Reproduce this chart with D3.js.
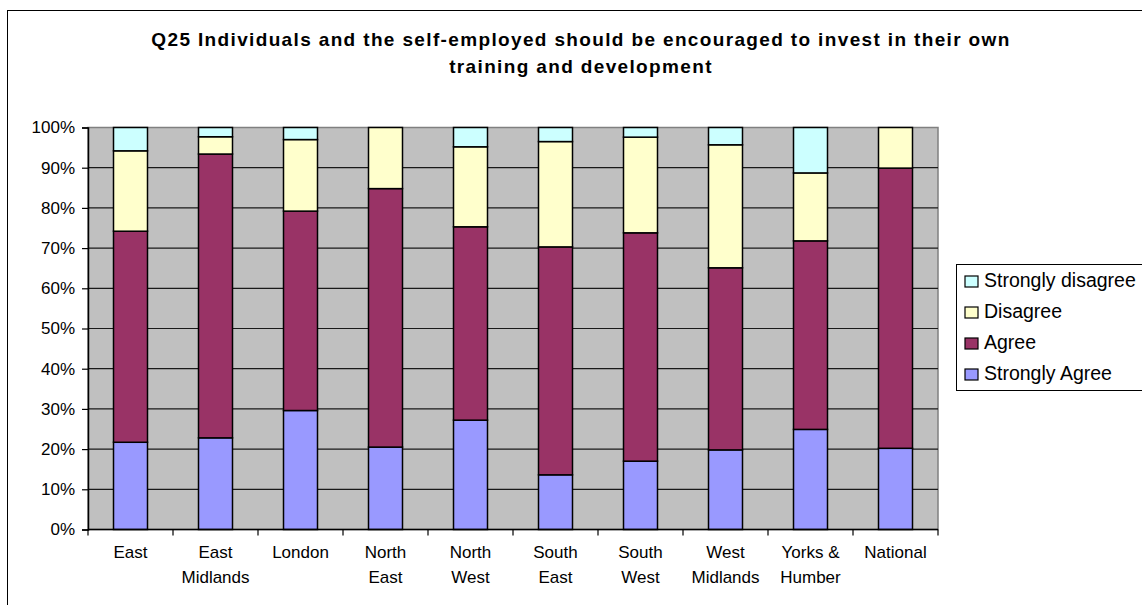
<!DOCTYPE html>
<html>
<head>
<meta charset="utf-8">
<script src="https://cdn.jsdelivr.net/npm/d3@7"></script>
<style>
  html, body { margin: 0; padding: 0; background: #fff; }
  svg { display: block; font-family: Arial, "Liberation Sans", sans-serif; }
</style>
</head>
<body>
<svg id="chart" width="1142" height="605"></svg>
<script>
// Regions (x axis) and response shares in percent
const categories = ["East", "East Midlands", "London", "North East", "North West",
                    "South East", "South West", "West Midlands", "Yorks & Humber", "National"];
const categoryLines = [["East"], ["East", "Midlands"], ["London"], ["North", "East"], ["North", "West"],
                       ["South", "East"], ["South", "West"], ["West", "Midlands"], ["Yorks &", "Humber"], ["National"]];

const stronglyAgree    = [21.7, 22.8, 29.6, 20.5, 27.2, 13.6, 17.0, 19.8, 24.9, 20.2];
const agree            = [52.5, 70.6, 49.6, 64.3, 48.1, 56.7, 56.8, 45.3, 46.9, 69.7];
const disagree         = [20.0,  4.3, 17.8, 15.2, 19.9, 26.2, 23.8, 30.6, 16.9, 10.1];
const stronglyDisagree = [ 5.8,  2.3,  3.0,  0.0,  4.8,  3.5,  2.4,  4.3, 11.3,  0.0];

const seriesNames = ["Strongly Agree", "Agree", "Disagree", "Strongly disagree"];
const seriesColors = ["#9999FF", "#993366", "#FFFFCC", "#CCFFFF"];
const yTicks = [0, 10, 20, 30, 40, 50, 60, 70, 80, 90, 100];

const titleLines = ["Q25 Individuals and the self-employed should be encouraged to invest in their own",
                    "training and development"];

const svg = d3.select("#chart");

// outer chart frame
svg.append("rect")
  .attr("x", 7.5).attr("y", 10.5).attr("width", 1160).attr("height", 620)
  .attr("fill", "#fff").attr("stroke", "#000").attr("stroke-width", 1);

// title: two centred bold lines, spaced out to the full title width
const titleCenter = 581, titleWidth = 858;
const title = svg.append("g").selectAll("text").data(titleLines).join("text")
  .attr("x", titleCenter).attr("y", (d, i) => 46 + i * 27)
  .attr("text-anchor", "middle")
  .attr("font-weight", "bold").attr("font-size", 19)
  .attr("fill", "#000")
  .text(d => d);
const firstWidth = title.nodes()[0].getComputedTextLength();
const spacing = (titleWidth - firstWidth) / (titleLines[0].length - 1);
title.attr("letter-spacing", spacing);

const plot = { left: 88, right: 938, top: 127.5, bottom: 529.5 };

const x = d3.scaleBand().domain(categories)
  .range([plot.left, plot.right]).paddingInner(0.6).paddingOuter(0.3);
const y = d3.scaleLinear().domain([0, 100]).range([plot.bottom, plot.top]);

// plot background
svg.append("rect")
  .attr("x", plot.left).attr("y", plot.top)
  .attr("width", plot.right - plot.left).attr("height", plot.bottom - plot.top)
  .attr("fill", "#C0C0C0").attr("stroke", "#808080").attr("stroke-width", 1.5);

// gridlines
svg.append("g").selectAll("line").data(yTicks.filter(t => t > 0 && t < 100)).join("line")
  .attr("x1", plot.left).attr("x2", plot.right)
  .attr("y1", d => y(d)).attr("y2", d => y(d))
  .attr("stroke", "#1a1a1a").attr("stroke-width", 1.2);

// stacked bars
const rows = categories.map((c, i) => ({
  category: c,
  "Strongly Agree": stronglyAgree[i],
  "Agree": agree[i],
  "Disagree": disagree[i],
  "Strongly disagree": stronglyDisagree[i]
}));
const stacked = d3.stack().keys(seriesNames)(rows);

svg.append("g").selectAll("g").data(stacked).join("g")
  .attr("fill", (d, i) => seriesColors[i])
  .selectAll("rect").data(d => d.filter(p => p[1] - p[0] > 0)).join("rect")
  .attr("x", d => x(d.data.category))
  .attr("width", x.bandwidth())
  .attr("y", d => y(d[1]))
  .attr("height", d => y(d[0]) - y(d[1]))
  .attr("stroke", "#000").attr("stroke-width", 1.5);

// y axis
const yAxis = svg.append("g")
  .attr("transform", `translate(${plot.left},0)`)
  .call(d3.axisLeft(y).tickValues(yTicks).tickFormat(d => d + "%").tickSize(6).tickPadding(7));
yAxis.select(".domain").attr("stroke", "#000").attr("stroke-width", 1.5);
yAxis.selectAll(".tick line").attr("stroke", "#000").attr("stroke-width", 1.2);
yAxis.selectAll(".tick text").attr("font-size", 17).attr("fill", "#000")
  .attr("font-family", "Arial, 'Liberation Sans', sans-serif");

// x axis line and category boundary ticks
svg.append("line")
  .attr("x1", plot.left).attr("x2", plot.right)
  .attr("y1", plot.bottom).attr("y2", plot.bottom)
  .attr("stroke", "#000").attr("stroke-width", 1.5);
const boundaries = d3.range(categories.length + 1).map(i => plot.left + i * x.step());
svg.append("g").selectAll("line").data(boundaries).join("line")
  .attr("x1", d => d).attr("x2", d => d)
  .attr("y1", plot.bottom).attr("y2", plot.bottom + 6)
  .attr("stroke", "#000").attr("stroke-width", 1.2);

// category labels
const xl = svg.append("g").selectAll("text").data(categories).join("text")
  .attr("text-anchor", "middle")
  .attr("font-size", 17).attr("fill", "#000")
  .attr("transform", d => `translate(${x(d) + x.bandwidth() / 2},0)`);
xl.selectAll("tspan").data((d, i) => categoryLines[i]).join("tspan")
  .attr("x", 0).attr("y", (d, j) => 558 + j * 25)
  .text(d => d);

// legend
const legend = svg.append("g");
legend.append("rect")
  .attr("x", 956.5).attr("y", 264.5).attr("width", 220).attr("height", 126)
  .attr("fill", "#fff").attr("stroke", "#000").attr("stroke-width", 1);
const legendOrder = [3, 2, 1, 0];
const items = legend.selectAll("g.item").data(legendOrder).join("g")
  .attr("class", "item")
  .attr("transform", (d, i) => `translate(0,${287 + i * 31})`);
items.append("rect")
  .attr("x", 965).attr("y", -11).attr("width", 13).attr("height", 11)
  .attr("fill", d => seriesColors[d]).attr("stroke", "#000").attr("stroke-width", 1.2);
items.append("text")
  .attr("x", 984).attr("y", 0)
  .attr("font-size", 19.5).attr("fill", "#000")
  .text(d => seriesNames[d]);
</script>
</body>
</html>
